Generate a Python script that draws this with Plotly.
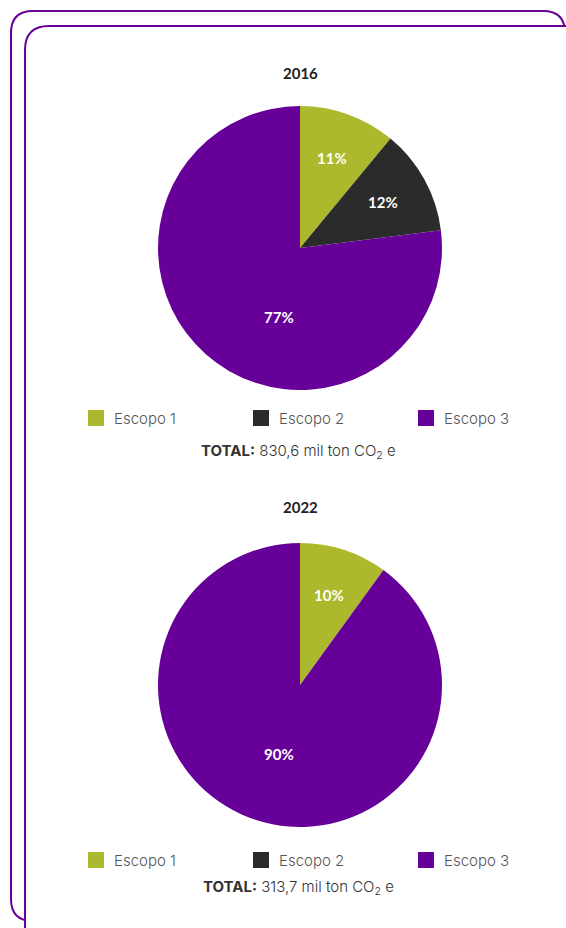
import math
import plotly.graph_objects as go

W, H = 566, 928

categories = ["Escopo 1", "Escopo 2", "Escopo 3"]
colors = ["#acb92c", "#2b2b2b", "#660099"]
years = ["2016", "2022"]
values_2016 = [11, 12, 77]
values_2022 = [10, 0, 90]
totals = ["830,6", "313,7"]

series = [values_2016, values_2022]

def px(x):
    return x / W

def py(y):
    return 1 - y / H

def rrect(x0, y0, x1, y1, r):
    pts = [
        ("M", x0 + r, y0), ("L", x1 - r, y0), ("Q", x1, y0, x1, y0 + r),
        ("L", x1, y1 - r), ("Q", x1, y1, x1 - r, y1),
        ("L", x0 + r, y1), ("Q", x0, y1, x0, y1 - r),
        ("L", x0, y0 + r), ("Q", x0, y0, x0 + r, y0),
    ]
    s = ""
    for p in pts:
        cmd = p[0]
        coords = p[1:]
        c = []
        for i in range(0, len(coords), 2):
            c.append(f"{px(coords[i]):.5f},{py(coords[i+1]):.5f}")
        s += cmd + " ".join(c) + " "
    return s + "Z"

fig = go.Figure()

centers_y = [248, 685]
radius = 142
title_y = [73, 507]
legend_y = [418, 860]
total_y = [452, 887]
cx = 300

annotations = []
for i, vals in enumerate(series):
    cy = centers_y[i]
    fig.add_trace(go.Pie(
        labels=categories,
        values=vals,
        textinfo="none",
        marker=dict(colors=colors, line=dict(width=0)),
        sort=False,
        direction="clockwise",
        rotation=0,
        showlegend=False,
        hoverinfo="label+percent",
        domain=dict(x=[px(cx - radius), px(cx + radius)],
                    y=[py(cy + radius), py(cy - radius)]),
    ))
    # slice labels placed from the data (clockwise from 12 o'clock)
    tot = sum(vals)
    cum = 0
    for v in vals:
        if v <= 0:
            continue
        frac = v / tot
        mid = (cum + frac / 2) * 2 * math.pi
        cum += frac
        if frac > 0.5:
            ang, rr = math.radians(197), 0.51 * radius
        else:
            ang, rr = mid, 0.67 * radius
        lx = cx + rr * math.sin(ang)
        ly = cy - rr * math.cos(ang)
        annotations.append(dict(
            text=f"<b>{v}%</b>", x=px(lx), y=py(ly), xref="paper", yref="paper",
            showarrow=False, xanchor="center", yanchor="middle",
            font=dict(family="Lato", size=15, color="white")))

shapes = []
shapes.append(dict(type="path", path=rrect(11, 11, 565, 921, 22), xref="paper", yref="paper",
                   line=dict(color="#660099", width=2), fillcolor="white", layer="below"))
shapes.append(dict(type="path", path=rrect(25, 26, 620, 990, 24), xref="paper", yref="paper",
                   line=dict(color="#660099", width=2), fillcolor="white", layer="below"))

for i in range(2):
    annotations.append(dict(
        text=f"<b>{years[i]}</b>", x=px(cx), y=py(title_y[i]), xref="paper", yref="paper",
        showarrow=False, xanchor="center", yanchor="middle",
        font=dict(family="Lato", size=15, color="#222222")))
    for k, cat in enumerate(categories):
        sx = 88 + 165 * k
        ly = legend_y[i]
        shapes.append(dict(type="rect", xref="paper", yref="paper",
                           x0=px(sx), x1=px(sx + 16), y0=py(ly + 8), y1=py(ly - 8),
                           fillcolor=colors[k], line=dict(width=0)))
        annotations.append(dict(
            text=cat, x=px(sx + 24), y=py(ly), xref="paper", yref="paper",
            showarrow=False, xanchor="left", yanchor="middle",
            font=dict(family="Inter", size=15, color="#555555", weight=300)))
    annotations.append(dict(
        text=f"<b>TOTAL:</b> {totals[i]} mil ton CO<sub>2</sub> e",
        x=px(298), y=py(total_y[i]), xref="paper", yref="paper",
        showarrow=False, xanchor="center", yanchor="middle",
        font=dict(family="Inter", size=15, color="#333333", weight=300)))

fig.update_layout(
    width=W, height=H,
    margin=dict(l=0, r=0, t=0, b=0),
    paper_bgcolor="white",
    plot_bgcolor="white",
    shapes=shapes,
    annotations=annotations,
    showlegend=False,
)

fig.write_html("out.html")
